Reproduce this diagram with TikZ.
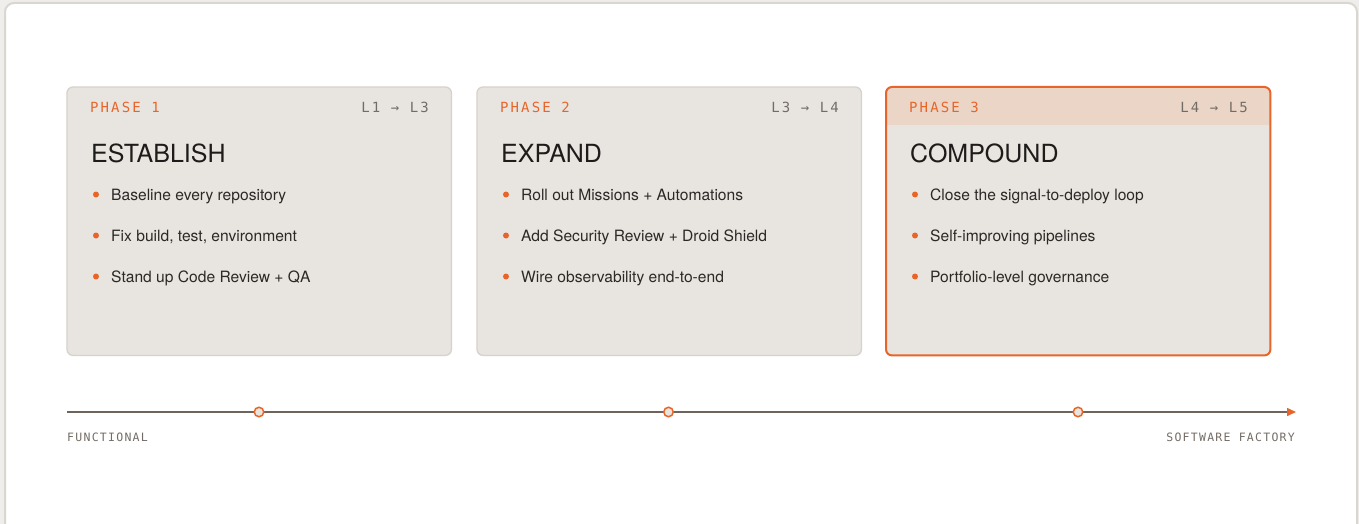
\documentclass[tikz,border=0pt]{standalone}
\usepackage{fontspec}
\setmainfont{TeX Gyre Heros}
\newfontfamily\monof{DejaVu Sans Mono}[LetterSpace=15]
\newfontfamily\monosm{DejaVu Sans Mono}[LetterSpace=11]
\usetikzlibrary{arrows.meta}
\definecolor{pagebg}{HTML}{EFEEEC}
\definecolor{framecol}{HTML}{DAD6D0}
\definecolor{cardfill}{HTML}{E8E5E0}
\definecolor{cardline}{HTML}{D6D2CC}
\definecolor{accent}{HTML}{E8652A}
\definecolor{bandfill}{HTML}{EBD5C6}
\definecolor{ink}{HTML}{1E1C1A}
\definecolor{bodyink}{HTML}{2B2826}
\definecolor{muted}{HTML}{736C66}
\definecolor{rail}{HTML}{6F645B}

\begin{document}
\begin{tikzpicture}[x=1pt,y=-1pt,
  card/.style={fill=cardfill,rounded corners=6pt,minimum width=384pt,minimum height=268pt,anchor=north west,inner sep=0pt},
  cardedge/.style={draw=cardline,line width=1.3pt,rounded corners=6pt},
  hotedge/.style={draw=accent,line width=2pt,rounded corners=6pt},
  phasetag/.style={anchor=base west,inner sep=0pt,text=accent,font=\monof\fontsize{14}{14}\selectfont},
  levels/.style={anchor=base east,inner sep=0pt,text=muted,font=\monof\fontsize{14}{14}\selectfont},
  heading/.style={anchor=base west,inner sep=0pt,text=ink,font=\fontsize{25}{26}\selectfont},
  item/.style={anchor=base west,inner sep=0pt,text=bodyink,font=\fontsize{15.6}{16}\selectfont},
  dot/.style={circle,fill=accent,inner sep=0pt,minimum size=6pt},
  milestone/.style={circle,draw=accent,line width=1.5pt,fill=cardfill,inner sep=0pt,minimum size=9.5pt},
  endlabel/.style={inner sep=0pt,text=muted,font=\monosm\fontsize{11.5}{12}\selectfont}
]
\useasboundingbox (0,0) rectangle (1359,524);
\clip (0,0) rectangle (1359,524);

% page and outer frame
\fill[pagebg] (0,0) rectangle (1359,524);
\filldraw[fill=white,draw=framecol,line width=2pt,rounded corners=9pt] (5,3) rectangle (1357,560);

% phase cards
\node[card] (card1) at (67,87) {};
\node[card] (card2) at (477,87) {};
\node[card] (card3) at (886,87) {};
\draw[cardedge] (card1.north west) rectangle (card1.south east);
\draw[cardedge] (card2.north west) rectangle (card2.south east);
\begin{scope}
  \clip[rounded corners=6pt] (card3.north west) rectangle (card3.south east);
  \fill[bandfill] (card3.north west) rectangle ([yshift=-38pt]card3.north east);
\end{scope}
\draw[hotedge] (card3.north west) rectangle (card3.south east);

% card contents
\foreach \cx/\tag/\lv/\ttl/\ia/\ib/\ic [count=\k] in {
  67/PHASE 1/L1 → L3/ESTABLISH/Baseline every repository/{Fix build, test, environment}/Stand up Code Review + QA,
  477/PHASE 2/L3 → L4/EXPAND/Roll out Missions + Automations/Add Security Review + Droid Shield/Wire observability end-to-end,
  886/PHASE 3/L4 → L5/COMPOUND/Close the signal-to-deploy loop/Self-improving pipelines/Portfolio-level governance}{
  \node[phasetag] (tag\k) at (\cx+23,113) {\tag};
  \node[levels] (lv\k) at (\cx+362,113) {\lv};
  \node[heading] (title\k) at (\cx+24,162) {\ttl};
  \node[dot] (dota\k) at (\cx+29,194.5) {};
  \node[item] (itema\k) at (\cx+44,200) {\ia};
  \node[dot] (dotb\k) at (\cx+29,235.5) {};
  \node[item] (itemb\k) at (\cx+44,241) {\ib};
  \node[dot] (dotc\k) at (\cx+29,276.5) {};
  \node[item] (itemc\k) at (\cx+44,282) {\ic};
}

% maturity timeline
\coordinate (railstart) at (67,412);
\coordinate (railend) at (1296,412);
\draw[rail,line width=1.5pt,-{Triangle[length=9pt,width=8pt,color=accent]}] (railstart) -- (railend);
\node[milestone] (m1) at (259,412) {};
\node[milestone] (m2) at (668.5,412) {};
\node[milestone] (m3) at (1078,412) {};
\node[endlabel,anchor=base west] (lowend) at (67,441) {FUNCTIONAL};
\node[endlabel,anchor=base east] (highend) at (1295,441) {SOFTWARE FACTORY};
\end{tikzpicture}
\end{document}
